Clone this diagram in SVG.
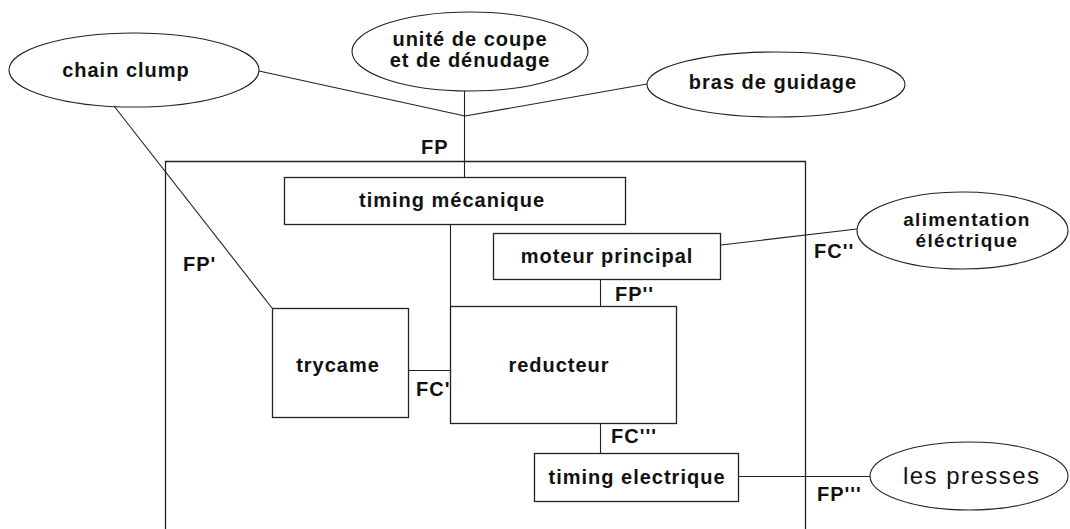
<svg xmlns="http://www.w3.org/2000/svg" width="1070" height="529" viewBox="0 0 1070 529">
<style>
  .bg{fill:#ffffff}
  .box{fill:#ffffff;stroke:#222;stroke-width:1.3}
  .ell{fill:#ffffff;stroke:#222;stroke-width:1.1}
  .frame{fill:none;stroke:#222;stroke-width:1.3}
  .ln{fill:none;stroke:#222;stroke-width:1.1}
  .t{font-family:"Liberation Sans",Arial,sans-serif;font-weight:bold;font-size:20px;letter-spacing:1px;fill:#111;text-anchor:middle}
  .t2{font-family:"Liberation Sans",Arial,sans-serif;font-weight:bold;font-size:19px;letter-spacing:1.3px;fill:#111;text-anchor:middle}
  .lab{font-family:"Liberation Sans",Arial,sans-serif;font-weight:bold;font-size:20px;letter-spacing:1px;fill:#111}
  .big{font-family:"Liberation Sans",Arial,sans-serif;font-size:24px;fill:#111}
</style>
<rect class="bg" x="0" y="0" width="1070" height="529"/>

<g id="frame">
  <polyline class="frame" points="165.5,535 165.5,161.5 805.5,161.5 805.5,535"/>
</g>

<g id="connectors">
  <line class="ln" x1="259" y1="71" x2="465" y2="116"/>
  <line class="ln" x1="465" y1="116" x2="647" y2="84"/>
  <line class="ln" x1="464.5" y1="91" x2="464.5" y2="177"/>
  <line class="ln" x1="114" y1="106" x2="272" y2="308"/>
  <line class="ln" x1="450.5" y1="225" x2="450.5" y2="307"/>
  <line class="ln" x1="409" y1="370.5" x2="450" y2="370.5"/>
  <line class="ln" x1="600.5" y1="280" x2="600.5" y2="307"/>
  <line class="ln" x1="721" y1="245" x2="857" y2="229"/>
  <line class="ln" x1="600.5" y1="424" x2="600.5" y2="453"/>
  <line class="ln" x1="739" y1="476.5" x2="870" y2="476.5"/>
</g>

<g id="chain-clump">
  <ellipse class="ell" cx="134" cy="70" rx="125" ry="37"/>
  <text class="t" x="126" y="77">chain clump</text>
</g>

<g id="unite-coupe">
  <ellipse class="ell" cx="470" cy="51.5" rx="118" ry="39.5"/>
  <text class="t" x="470" y="46">unité de coupe</text>
  <text class="t" x="470" y="67">et de dénudage</text>
</g>

<g id="bras-guidage">
  <ellipse class="ell" cx="776" cy="84.5" rx="129" ry="32.5"/>
  <text class="t" x="773" y="89">bras de guidage</text>
</g>

<g id="alimentation">
  <ellipse class="ell" cx="962.5" cy="230.5" rx="105.5" ry="38.5"/>
  <text class="t2" x="967" y="226">alimentation</text>
  <text class="t2" x="967" y="247">éléctrique</text>
</g>

<g id="les-presses">
  <ellipse class="ell" cx="969" cy="476" rx="99" ry="34"/>
  <text class="big" x="903" y="484" textLength="136" lengthAdjust="spacing">les presses</text>
</g>

<g id="timing-mecanique">
  <rect class="box" x="284.5" y="177.5" width="341" height="47"/>
  <text class="t" x="452" y="207">timing mécanique</text>
</g>

<g id="moteur-principal">
  <rect class="box" x="493.5" y="233.5" width="227" height="46"/>
  <text class="t" x="607" y="263">moteur principal</text>
</g>

<g id="trycame">
  <rect class="box" x="272.5" y="308.5" width="136" height="109"/>
  <text class="t" x="338" y="372">trycame</text>
</g>

<g id="reducteur">
  <rect class="box" x="450.5" y="306.5" width="226" height="117"/>
  <text class="t" x="559" y="372">reducteur</text>
</g>

<g id="timing-electrique">
  <rect class="box" x="534.5" y="453.5" width="204" height="48"/>
  <text class="t" x="637" y="484">timing electrique</text>
</g>

<g id="labels">
  <text class="lab" x="421" y="154">FP</text>
  <text class="lab" x="183" y="271">FP'</text>
  <text class="lab" x="615" y="301">FP''</text>
  <text class="lab" x="814" y="258">FC''</text>
  <text class="lab" x="416" y="396">FC'</text>
  <text class="lab" x="611" y="443">FC'''</text>
  <text class="lab" x="817" y="501">FP'''</text>
</g>
</svg>
